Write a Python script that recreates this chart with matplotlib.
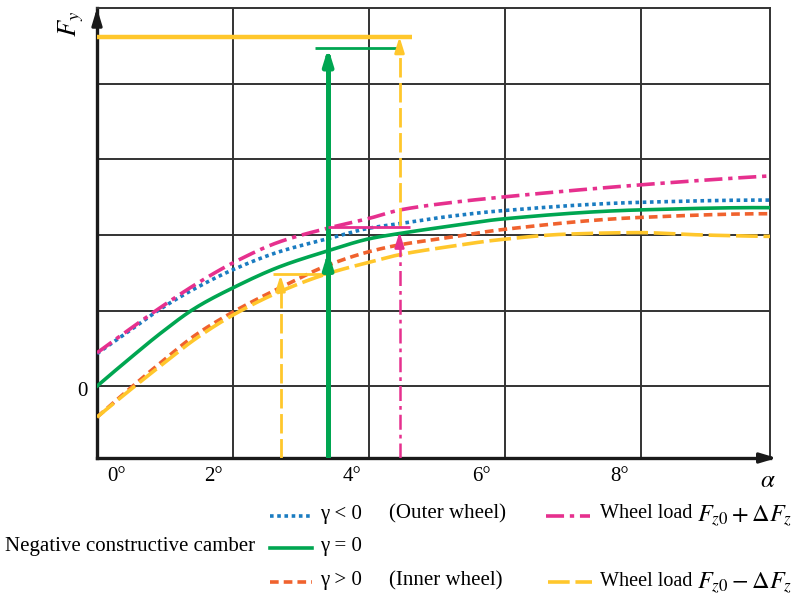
import matplotlib.pyplot as plt
from matplotlib.lines import Line2D
import numpy as np

plt.rcParams["font.family"] = ["Liberation Serif", "DejaVu Serif"]
plt.rcParams["mathtext.fontset"] = "stix"

# slip angle alpha in degrees, lateral force in grid units (schematic)
alpha_pts = [0, 0.46, 0.95, 1.44, 2.0, 2.69, 3.40, 4.01, 4.46, 5.14, 5.96, 7.97, 9.9]
fy_blue = [0.43, 0.72, 1.03, 1.29, 1.54, 1.78, 1.95, 2.09, 2.15, 2.24, 2.32, 2.43, 2.46]
fy_pink = [0.44, 0.74, 1.05, 1.34, 1.63, 1.91, 2.09, 2.22, 2.33, 2.42, 2.50, 2.66, 2.78]
fy_green = [0.0, 0.35, 0.71, 1.03, 1.30, 1.58, 1.79, 1.95, 2.02, 2.11, 2.21, 2.33, 2.36]
fy_orange = [-0.41, -0.05, 0.32, 0.67, 0.98, 1.30, 1.60, 1.78, 1.87, 1.96, 2.07, 2.23, 2.28]

alpha_yellow = [0, 0.46, 0.95, 1.44, 2.0, 2.69, 3.40, 4.01, 4.46, 5.14, 5.96, 6.91, 7.97,
                8.87, 9.9]
fy_yellow = [-0.41, -0.07, 0.28, 0.62, 0.94, 1.25, 1.49, 1.64, 1.74, 1.84, 1.94, 2.01, 2.03,
             2.0, 1.98]

# construction arrows: x position, arrow tip, horizontal marker level and span
arrow_yellow_low = dict(x=2.70, tip=1.47, level=1.48, span=(2.59, 3.39))
arrow_green = dict(x=3.40, tip=4.47, level=4.47, span=(3.21, 4.46), mid=1.78)
arrow_yellow_high = dict(x=4.45, tip=4.62, level=4.62, span=(0.0, 4.63))
arrow_pink = dict(x=4.45, tip=2.04, level=2.11, span=(3.40, 4.60))

tick_label_pos = [0.29, 1.72, 3.75, 5.65, 7.69]
tick_labels = ["0°", "2°", "4°", "6°", "8°"]

BLUE = "#1a7cc1"
PINK = "#e6308e"
GREEN = "#00a651"
ORANGE = "#f0622e"
YELLOW = "#ffc72c"
GRID = "#333333"

DOT = (0, (1, 1))
DASHDOT = (0, (5, 1.6, 1.2, 1.6))
SHORTDASH = (0, (2.4, 1.4))
LONGDASH = (0, (6, 1.6))


def pchip(xs, ys, n=300):
    # shape preserving cubic through the read points (Fritsch-Carlson)
    xs = np.asarray(xs, float)
    ys = np.asarray(ys, float)
    h = np.diff(xs)
    delta = np.diff(ys) / h
    d = np.zeros_like(ys)
    for k in range(1, len(xs) - 1):
        if delta[k - 1] * delta[k] > 0:
            w1 = 2 * h[k] + h[k - 1]
            w2 = h[k] + 2 * h[k - 1]
            d[k] = (w1 + w2) / (w1 / delta[k - 1] + w2 / delta[k])
    d[0] = ((2 * h[0] + h[1]) * delta[0] - h[0] * delta[1]) / (h[0] + h[1])
    d[-1] = ((2 * h[-1] + h[-2]) * delta[-1] - h[-1] * delta[-2]) / (h[-1] + h[-2])
    xn = np.linspace(xs[0], xs[-1], n)
    j = np.clip(np.searchsorted(xs, xn) - 1, 0, len(xs) - 2)
    t = (xn - xs[j]) / h[j]
    h00 = 2 * t ** 3 - 3 * t ** 2 + 1
    h10 = t ** 3 - 2 * t ** 2 + t
    h01 = -2 * t ** 3 + 3 * t ** 2
    h11 = t ** 3 - t ** 2
    yn = h00 * ys[j] + h10 * h[j] * d[j] + h01 * ys[j + 1] + h11 * h[j] * d[j + 1]
    return xn, yn


fig = plt.figure(figsize=(8, 5.99), dpi=100)
ax = fig.add_axes([97 / 800, 1 - 458 / 599, (770 - 97) / 800, (458 - 8) / 599])
ax.set_xlim(0, 9.9)
ax.set_ylim(-0.95, 5.0)

# grid
for gx in [2, 4, 6, 8]:
    ax.axvline(gx, color=GRID, lw=1.4, zorder=1)
for gy in [0, 1, 2, 3, 4]:
    ax.axhline(gy, color=GRID, lw=1.4, zorder=1)

for s in ["top", "right"]:
    ax.spines[s].set_color(GRID)
    ax.spines[s].set_linewidth(1.4)
for s in ["left", "bottom"]:
    ax.spines[s].set_color("#1a1a1a")
    ax.spines[s].set_linewidth(2.4)
ax.set_xticks([])
ax.set_yticks([])

# curves
ax.plot(*pchip(alpha_pts, fy_green), color=GREEN, lw=2.6, zorder=3)
ax.plot(*pchip(alpha_pts, fy_blue), color=BLUE, lw=2.6, linestyle=DOT, zorder=3)
ax.plot(*pchip(alpha_pts, fy_pink), color=PINK, lw=2.6, linestyle=DASHDOT, zorder=3)
ax.plot(*pchip(alpha_pts, fy_orange), color=ORANGE, lw=2.6, linestyle=SHORTDASH, zorder=3)
ax.plot(*pchip(alpha_yellow, fy_yellow), color=YELLOW, lw=2.6, linestyle=LONGDASH, zorder=3)


def head(xa, tip, color, lw):
    ax.annotate("", xy=(xa, tip), xytext=(xa, tip - 0.22),
                arrowprops=dict(arrowstyle="-|>,head_length=0.9,head_width=0.28",
                                color=color, lw=lw, shrinkA=0, shrinkB=0), zorder=5)


def construction(spec, color, lw, ls, hlw, bottom=-0.95):
    ax.plot([spec["x"], spec["x"]], [bottom, spec["tip"] - 0.2], color=color, lw=lw,
            linestyle=ls, zorder=4)
    head(spec["x"], spec["tip"], color, lw)
    if "mid" in spec:
        head(spec["x"], spec["mid"], color, lw)
    ax.plot(spec["span"], [spec["level"]] * 2, color=color, lw=hlw, zorder=4,
            solid_capstyle="butt")


construction(arrow_yellow_low, YELLOW, 2.0, (0, (7, 2)), 2.0)
construction(arrow_green, GREEN, 3.6, "-", 2.0)
construction(arrow_yellow_high, YELLOW, 2.0, (0, (7, 2)), 3.2, bottom=arrow_pink["level"])
construction(arrow_pink, PINK, 1.8, (0, (6, 2, 1.5, 2)), 2.0)

# axis arrows
ax.annotate("", xy=(1.01, 0), xytext=(0.985, 0), xycoords="axes fraction",
            arrowprops=dict(arrowstyle="-|>,head_length=1.0,head_width=0.3",
                            color="#1a1a1a", lw=2.2, shrinkA=0, shrinkB=0),
            annotation_clip=False)
ax.annotate("", xy=(0, 1.0), xytext=(0, 0.965), xycoords="axes fraction",
            arrowprops=dict(arrowstyle="-|>,head_length=1.0,head_width=0.3",
                            color="#1a1a1a", lw=2.2, shrinkA=0, shrinkB=0),
            annotation_clip=False)

# axis labels
for pos, lab in zip(tick_label_pos, tick_labels):
    ax.text(pos, -0.95 - 0.24, lab, ha="center", va="center", fontsize=15)
ax.text(9.87, -0.95 - 0.30, r"$\alpha$", ha="center", va="center", fontsize=18)
ax.text(-0.22, -0.07, "0", ha="center", va="center", fontsize=15)
fig.text(71 / 800, 1 - 24 / 599, r"$F_y$", rotation=90, ha="center", va="center", fontsize=19)


# legend built by hand
def sample(x0, x1, ypx, color, ls):
    fig.add_artist(Line2D([x0 / 800, x1 / 800], [1 - ypx / 599] * 2, color=color,
                          lw=2.6, linestyle=ls, transform=fig.transFigure))


def ftext(xpx, ypx, s, size=15):
    fig.text(xpx / 800, 1 - ypx / 599, s, va="center", fontsize=size)


sample(270, 312, 516, BLUE, DOT)
ftext(320, 514, "γ < 0")
ftext(389, 514, "(Outer wheel)")
sample(546, 590, 516, PINK, DASHDOT)
ftext(600, 514, "Wheel load", 14.5)
ftext(697, 516, r"$F_{z0} + \mathit{\Delta} F_z$", 17.5)

ftext(5, 547, "Negative constructive camber")
sample(270, 312, 548, GREEN, "-")
ftext(320, 547, "γ = 0")

sample(270, 312, 582, ORANGE, SHORTDASH)
ftext(320, 581, "γ > 0")
ftext(389, 581, "(Inner wheel)")
sample(548, 592, 582, YELLOW, LONGDASH)
ftext(600, 581, "Wheel load", 14.5)
ftext(697, 583, r"$F_{z0} - \mathit{\Delta} F_z$", 17.5)

fig.savefig("out.png", dpi=100)
